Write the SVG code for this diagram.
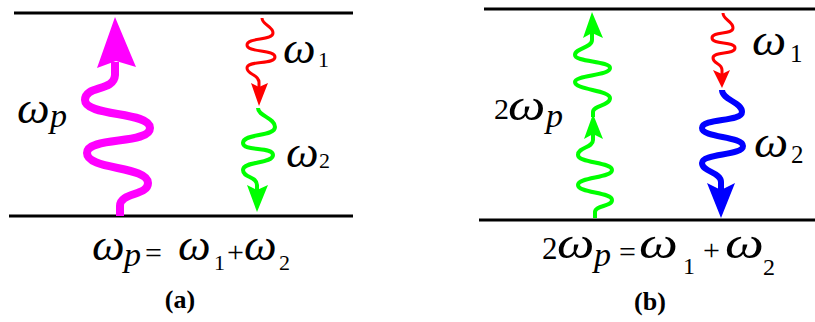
<svg xmlns="http://www.w3.org/2000/svg" width="815" height="322" viewBox="0 0 815 322">
<style>
.lvl{stroke:#000;stroke-width:3;fill:none}
.w{fill:none;stroke-linecap:butt;stroke-linejoin:round}
.it{font-family:"Liberation Serif",serif;font-style:italic;fill:#000}
.om{font-family:"Liberation Serif",serif;font-style:italic;fill:#000;font-size:44px}
.rm{font-family:"Liberation Serif",serif;fill:#000}
.cap{font-family:"Liberation Serif",serif;font-weight:bold;fill:#000;text-anchor:middle}
</style>
<rect width="815" height="322" fill="#fff"/>
<g id="levels">
<line class="lvl" x1="14" y1="13" x2="353" y2="13"/>
<line class="lvl" x1="9" y1="216" x2="353" y2="216"/>
<line class="lvl" x1="484" y1="9" x2="815" y2="9"/>
<line class="lvl" x1="479" y1="220" x2="815" y2="220"/>
</g>
<g id="connectors">
<g id="pump-a">
<path class="w" stroke="#ff00ff" stroke-width="8" d="M120,216 L120,206 C120,192 148,196 148,183 C148,166 87,170 87,153 C87,136 150,145 150,128 C150,111 85,117 85,100 C85,85 114,92 115,75 L115,62"/>
<polygon fill="#ff00ff" points="115,17 136,67 116,61 97,68"/>
</g>
<g id="w1-a">
<path class="w" stroke="#ff0000" stroke-width="3" d="M262,18 C262,25 273,26 273,33 C273,41 247,37 247,45 C247,53 275,49 275,57 C275,65 247,60 247,68 C247,75 259,74 259,82 L259,87"/>
<polygon fill="#ff0000" points="259,106 251,83 259,87 268,83"/>
</g>
<g id="w2-a">
<path class="w" stroke="#00ff00" stroke-width="4" d="M258,108 C258,116 275,118 275,127 C275,137 243,133 243,143 C243,152 273,146 273,155 C273,164 243,161 243,170 C243,178 257,176 257,185 L257,190"/>
<polygon fill="#00ff00" points="257,212 247,185 257,190 268,185"/>
</g>
<g id="pump1-b">
<path class="w" stroke="#00ff00" stroke-width="4" d="M595,218 L595,212 C595,205 612,207 612,200 C612,192 578,193 578,185 C578,177 612,178 612,170 C612,162 578,163 578,155 C578,147 593,148 593,140 L593,134"/>
<polygon fill="#00ff00" points="593,114 603,139 593,134 584,139"/>
</g>
<g id="pump2-b">
<path class="w" stroke="#00ff00" stroke-width="4" d="M593,117 L593,112 C593,105 610,106 610,98 C610,90 575,90 575,82 C575,75 610,76 610,68 C610,61 575,62 575,55 C575,48 592,48 592,40 L592,33"/>
<polygon fill="#00ff00" points="592,12 603,38 592,33 583,38"/>
</g>
<g id="w1-b">
<path class="w" stroke="#ff0000" stroke-width="3" d="M723,13 C723,20 733,21 733,28 C733,35 712,31 712,38 C712,45 735,41 735,48 C735,55 713,51 713,58 C713,64 722,63 722,70 L722,74"/>
<polygon fill="#ff0000" points="722,88 713,70 722,74 730,70"/>
</g>
<g id="w2-b">
<path class="w" stroke="#0000ff" stroke-width="6" d="M722,90 C722,100 742,102 742,112 C742,122 702,118 702,128 C702,138 743,136 743,146 C743,156 702,153 702,163 C702,172 721,172 721,182 L721,190"/>
<polygon fill="#0000ff" points="721,218 707,183 721,190 735,183"/>
</g>
</g>
<g id="labels-a">
<text class="om" transform="translate(17,123) scale(1.05,1)">ω</text>
<text class="it" x="50" y="127" font-size="34">p</text>
<text class="om" transform="translate(283,63) scale(1.05,1)">ω</text>
<text class="rm" x="318" y="67" font-size="22">1</text>
<text class="om" transform="translate(286,167) scale(1.05,1)">ω</text>
<text class="rm" x="319" y="168" font-size="22">2</text>
<text class="om" transform="translate(92,260) scale(1.05,1)">ω</text>
<text class="it" x="124" y="266" font-size="34">p</text>
<text class="rm" x="145" y="263" font-size="30">=</text>
<text class="om" transform="translate(178,260) scale(1.05,1)">ω</text>
<text class="rm" x="214" y="270" font-size="22">1</text>
<text class="rm" x="227" y="262" font-size="30">+</text>
<text class="om" transform="translate(244,260) scale(1.05,1)">ω</text>
<text class="rm" x="279" y="270" font-size="22">2</text>
<text class="cap" x="180" y="308" font-size="26">(a)</text>
</g>
<g id="labels-b">
<text class="rm" x="494" y="119" font-size="30">2</text>
<text class="om" transform="translate(508,120) scale(1.2,1)">ω</text>
<text class="it" x="546" y="127" font-size="34">p</text>
<text class="om" transform="translate(752,55) scale(1.1,1)">ω</text>
<text class="rm" x="790" y="62" font-size="25">1</text>
<text class="om" transform="translate(754,157) scale(1.1,1)">ω</text>
<text class="rm" x="791" y="163" font-size="25">2</text>
<text class="rm" x="542" y="259" font-size="31">2</text>
<text class="om" transform="translate(557,258) scale(1.2,1)">ω</text>
<text class="it" x="594" y="266" font-size="34">p</text>
<text class="rm" x="619" y="262" font-size="30">=</text>
<text class="om" transform="translate(639,258) scale(1.25,1)">ω</text>
<text class="rm" x="683" y="274" font-size="24">1</text>
<text class="rm" x="703" y="260" font-size="30">+</text>
<text class="om" transform="translate(725,258) scale(1.25,1)">ω</text>
<text class="rm" x="763" y="275" font-size="24">2</text>
<text class="cap" x="650" y="310" font-size="26">(b)</text>
</g>
</svg>
